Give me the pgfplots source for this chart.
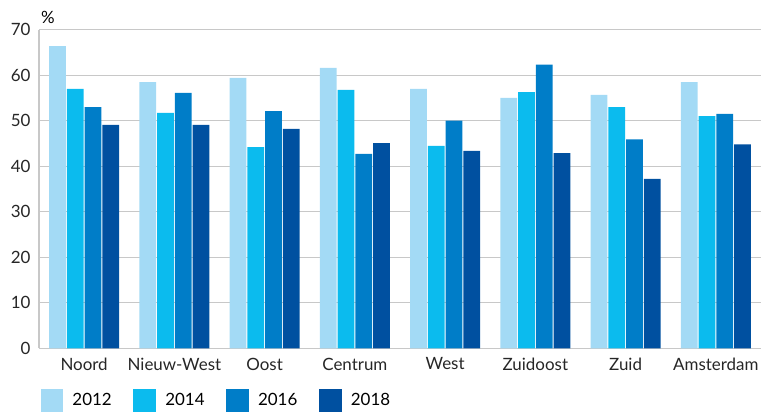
\documentclass[border=0pt]{standalone}
\usepackage{fontspec}
\setmainfont{Lato}
\usepackage{pgfplots}
\pgfplotsset{compat=1.18}
\definecolor{cA}{HTML}{A3DAF5}
\definecolor{cB}{HTML}{0BBBEE}
\definecolor{cC}{HTML}{007DC8}
\definecolor{cD}{HTML}{0050A0}
\definecolor{gridc}{HTML}{C8C8C8}
\begin{document}
\begin{tikzpicture}
\begin{axis}[
  at={(0,0)}, anchor=south west,
  scale only axis,
  width=722bp, height=318.6bp,
  xmin=-0.5, xmax=7.5, ymin=0, ymax=70,
  ybar=1bp, bar width=16.7bp,
  xtick={0,1,2,3,4,5,6,7},
  xticklabels={Noord,Nieuw-West,Oost,Centrum,West,Zuidoost,Zuid,Amsterdam},
  ytick={0,10,20,30,40,50,60,70},
  major tick length=0pt,
  axis x line*=bottom, axis y line*=left,
  axis line style={gridc, line width=1.2bp},
  ymajorgrids, major grid style={gridc, line width=1.2bp},
  every axis plot/.append style={draw=none},
  /pgf/number format/assume math mode=true,
  tick label style={font=\fontsize{17}{20}\selectfont, text=black!85},
  yticklabel style={xshift=-5bp},
  xticklabel style={yshift=-6bp},
  ylabel={\%},
  ylabel style={rotate=-90, at={(rel axis cs:0,1)}, anchor=south west, font=\fontsize{17}{20}\selectfont, xshift=2bp, yshift=6bp, inner sep=0pt},
  legend columns=4,
  legend style={draw=none, at={(rel axis cs:0,0)}, anchor=north west, xshift=1.5bp, yshift=-40.5bp,
     font=\fontsize{17}{20}\selectfont, inner sep=0pt, row sep=0pt,
     nodes={inner sep=0pt, text width=38bp, align=left},
     /tikz/every odd column/.append style={column sep=9.3bp},
     /tikz/every even column/.append style={column sep=23bp}},
  legend image code/.code={\fill[#1] (0bp,-11.5bp) rectangle (22.5bp,11.5bp);},
]
\addplot[fill=cA] coordinates {(0,66.4) (1,58.5) (2,59.4) (3,61.6) (4,57.0) (5,55.0) (6,55.7) (7,58.5)};
\addplot[fill=cB] coordinates {(0,57.0) (1,51.7) (2,44.2) (3,56.8) (4,44.5) (5,56.3) (6,53.0) (7,51.0)};
\addplot[fill=cC] coordinates {(0,53.0) (1,56.1) (2,52.1) (3,42.7) (4,50.0) (5,62.3) (6,45.9) (7,51.5)};
\addplot[fill=cD] coordinates {(0,49.1) (1,49.1) (2,48.2) (3,45.1) (4,43.4) (5,42.9) (6,37.2) (7,44.8)};
\legend{2012,2014,2016,2018}
\end{axis}
\pgfresetboundingbox
\path[use as bounding box] (-39bp,-63.7bp) rectangle (722bp,348.3bp);
\end{tikzpicture}
\end{document}
